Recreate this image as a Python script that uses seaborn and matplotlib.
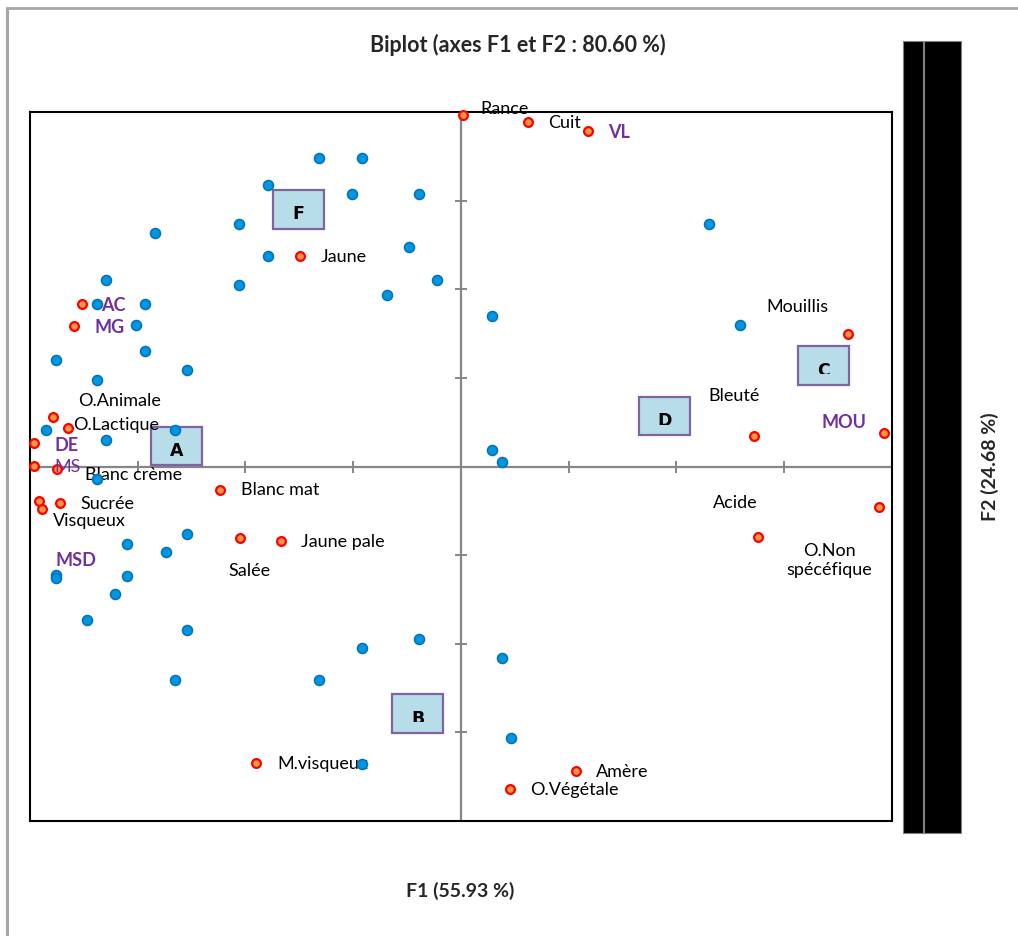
import matplotlib
matplotlib.use("Agg")
import matplotlib.pyplot as plt
from matplotlib.patches import Rectangle
from matplotlib.lines import Line2D
from matplotlib.transforms import Bbox, TransformedBbox
import numpy as np
import pandas as pd
import seaborn as sns

# ---- Observations (products) on the F1 / F2 plane ----
obs_f1 = [-1.32, -0.92, -1.79, -1.01, -0.39, -2.06, -2.84, -1.79, -0.48, -2.06,
          -0.22, -0.69, -3.29, -3.38, -2.93, -3.02, -2.93, -3.76, -2.54, -3.38,
          -3.85, -2.65, -3.29, -3.38, 2.30, 0.29, 2.59, 0.29, 0.38, -2.54,
          -3.10, -2.74, -3.76, -3.76, -3.10, -3.21, -3.47, -2.54, -0.39, -0.92,
          -2.65, -1.32, -0.92, 0.38, 0.47]
obs_f2 = [3.48, 3.48, 3.18, 3.07, 3.07, 2.74, 2.63, 2.37, 2.48, 2.05,
          2.10, 1.94, 2.10, 1.83, 1.83, 1.60, 1.30, 1.20, 1.09, 0.98,
          0.41, 0.41, 0.30, -0.14, 2.74, 1.70, 1.60, 0.19, 0.05, -0.76,
          -0.87, -0.97, -1.22, -1.26, -1.23, -1.44, -1.73, -1.84, -1.95, -2.05,
          -2.41, -2.41, -3.36, -2.16, -3.06]

# ---- Variables (sensory attributes and composition) ----
var_names = ["Rance", "Cuit", "VL", "Jaune", "AC", "MG", "O.Animale", "O.Lactique",
             "DE", "MS", "Blanc crème", "MSD", "Visqueux", "Sucrée", "Blanc mat",
             "Salée", "Jaune pale", "M.visqueux", "Mouillis", "Bleuté", "MOU",
             "Acide", "O.Non\nspécéfique", "Amère", "O.Végétale"]
var_f1 = [0.02, 0.62, 1.18, -1.49, -3.52, -3.59, -3.79, -3.65,
          -3.96, -3.96, -3.75, -3.92, -3.89, -3.72, -2.24,
          -2.05, -1.67, -1.90, 3.59, 2.72, 3.93,
          3.88, 2.76, 1.07, 0.46]
var_f2 = [3.97, 3.89, 3.79, 2.38, 1.83, 1.58, 0.56, 0.43,
          0.26, 0.01, -0.03, -0.39, -0.48, -0.41, -0.27,
          -0.81, -0.84, -3.34, 1.49, 0.34, 0.38,
          -0.46, -0.79, -3.44, -3.64]
composition_vars = ["VL", "AC", "MG", "DE", "MS", "MSD", "MOU"]

# ---- Product groups ----
group_names = ["F", "A", "C", "D", "B"]
group_f1 = [-1.51, -2.64, 3.37, 1.89, -0.40]
group_f2 = [2.90, 0.23, 1.14, 0.57, -2.79]

# ---- Styling / layout ----
W, H, DPI = 1018, 936, 100
PX_X = 108.0   # pixels per F1 unit
PX_Y = 88.6    # pixels per F2 unit
label_offsets = {  # (dx, dy) in pixels, text left edge / vertical centre
    "Rance": (17, 6), "Cuit": (20, -1), "VL": (20, -2), "Jaune": (20, -1),
    "AC": (19, -1), "MG": (20, -1), "O.Animale": (26, 16), "O.Lactique": (5, 3),
    "DE": (20, -2), "MS": (20, -1), "Blanc crème": (28, -6), "MSD": (17, -59),
    "Visqueux": (11, -12), "Sucrée": (20, -1), "Blanc mat": (21, 0),
    "Salée": (-12, -33), "Jaune pale": (20, -1), "M.visqueux": (21, -1),
    "Mouillis": (-81, 27), "Bleuté": (-45, 40), "MOU": (-63, 10),
    "Acide": (-166, 4), "O.Non\nspécéfique": (71, -24), "Amère": (20, -1),
    "O.Végétale": (20, -1),
}
letter_drop = [9.6, 9.6, 10.5, 10.5, 10.5]      # baseline below box centre (px)
letter_clip = [None, None, 8.7, 8.7, 8.7]         # visible text limit below centre (px)

BLUE_FILL, BLUE_EDGE = "#0096DC", "#0070C0"
RED_FILL, RED_EDGE = "#F79646", "#FF0000"
PURPLE = "#7030A0"
BOX_FILL, BOX_EDGE = "#B7DEE8", "#8064A2"
AXIS_GREY = "#868686"

sns.set_style("white")
plt.rcParams["font.family"] = ["Lato", "DejaVu Sans"]

fig = plt.figure(figsize=(W / DPI, H / DPI), dpi=DPI)
ax = fig.add_axes([30 / W, 1 - 821 / H, 861.7 / W, 709 / H])
ax.set_xlim(-4, 4)
ax.set_ylim(-4, 4)
ax.set_xticks([])
ax.set_yticks([])
for sp in ax.spines.values():
    sp.set_visible(True)
    sp.set_color("black")
    sp.set_linewidth(1.5)

# centre axes with tick marks
ax.axhline(0, color=AXIS_GREY, lw=1.6, zorder=1)
ax.axvline(0, color=AXIS_GREY, lw=1.6, zorder=1)
ticks = [t for t in range(-3, 4) if t != 0]
ax.plot(ticks, [0] * len(ticks), ls="none", marker="|", ms=8, mew=1.4,
        color=AXIS_GREY, zorder=1)
ax.plot([0] * len(ticks), ticks, ls="none", marker="_", ms=8, mew=1.4,
        color=AXIS_GREY, zorder=1)

# group boxes
bw, bh = 51 / PX_X, 38.7 / PX_Y
for name, gx, gy, drop, clip in zip(group_names, group_f1, group_f2,
                                    letter_drop, letter_clip):
    ax.add_patch(Rectangle((gx - bw / 2, gy - bh / 2), bw, bh,
                           facecolor=BOX_FILL, edgecolor=BOX_EDGE, lw=1.6,
                           zorder=3))
    t = ax.text(gx, gy - drop / PX_Y, name, ha="center", va="baseline",
                fontsize=12.5, fontweight="bold", family="DejaVu Sans",
                color="black", zorder=3.5)
    if clip is not None:
        low = gy - clip / PX_Y
        box = Bbox([[gx - bw / 2, low], [gx + bw / 2, gy + bh / 2]])
        t.set_clip_box(TransformedBbox(box, ax.transData))
        t.set_clip_on(True)

# variables
var_df = pd.DataFrame({"F1": var_f1, "F2": var_f2, "name": var_names})
sns.scatterplot(data=var_df, x="F1", y="F2", ax=ax, s=40, color=RED_FILL,
                edgecolor=RED_EDGE, linewidth=1.6, zorder=4, clip_on=False,
                legend=False)
for name, vx, vy in zip(var_names, var_f1, var_f2):
    dx, dy = label_offsets[name]
    comp = name in composition_vars
    multi = "\n" in name
    ax.annotate(name, xy=(vx, vy), xytext=(dx, dy), textcoords="offset pixels",
                ha="center" if multi else "left", va="center",
                fontsize=13, linespacing=1.25,
                fontweight="bold" if comp and name != "MS" else "normal",
                color=PURPLE if comp else "black",
                zorder=5, annotation_clip=False)

# observations
obs_df = pd.DataFrame({"F1": obs_f1, "F2": obs_f2})
sns.scatterplot(data=obs_df, x="F1", y="F2", ax=ax, s=52, color=BLUE_FILL,
                edgecolor=BLUE_EDGE, linewidth=1.1, zorder=6, clip_on=False,
                legend=False)

# titles
fig.text(518 / W, 1 - 45 / H, "Biplot (axes F1 et F2 : 80.60 %)",
         ha="center", va="center", fontsize=15.5, fontweight="bold")
fig.text(460 / W, 1 - 891 / H, "F1 (55.93 %)", ha="center", va="center",
         fontsize=14, fontweight="bold")
fig.text(990 / W, 1 - 467 / H, "F2 (24.68 %)", ha="center", va="center",
         rotation=90, fontsize=14, fontweight="bold")

# vertical bars beside the plot
for x0, x1 in [(902.7, 922.7), (924.3, 961.3)]:
    fig.add_artist(Rectangle((x0 / W, 1 - 833 / H), (x1 - x0) / W, 792 / H,
                             transform=fig.transFigure, facecolor="black",
                             edgecolor="#808080", lw=0.8))

# outer frame (left and top edges)
fig.add_artist(Line2D([7 / W, 7 / W], [0, 1 - 8 / H], transform=fig.transFigure,
                      color="#A6A6A6", lw=2.2))
fig.add_artist(Line2D([7 / W, 1], [1 - 8 / H, 1 - 8 / H], transform=fig.transFigure,
                      color="#A6A6A6", lw=2.0))

fig.savefig("out.png", dpi=DPI, facecolor="white")
